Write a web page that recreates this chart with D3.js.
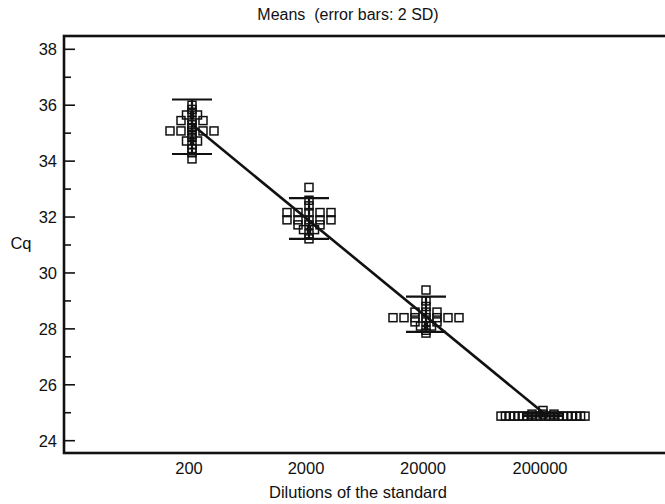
<!DOCTYPE html>
<html>
<head>
<meta charset="utf-8">
<script src="https://cdn.jsdelivr.net/npm/d3@7"></script>
<style>
  body { margin: 0; background: #fff; }
  svg text { font-family: "Liberation Sans", Arial, sans-serif; fill: #111; white-space: pre; }
</style>
</head>
<body>
<svg id="chart" width="665" height="504"></svg>
<script>
// dilution groups on the x axis
const dilutions = ['200', '2000', '20000', '200000'];

// Cq of every replicate, per dilution
const cq200 = [36.0, 35.85, 35.75, 35.65, 35.65, 35.45, 35.45, 35.45, 35.3, 35.2,
  35.08, 35.08, 35.08, 35.08, 35.08, 34.95, 34.85, 34.72, 34.72, 34.6, 34.45, 34.3, 34.08];
const cq2000 = [33.06, 32.6, 32.4, 32.16, 32.16, 32.16, 32.16, 32.16, 31.9, 31.9, 31.9,
  31.9, 31.9, 31.72, 31.72, 31.72, 31.55, 31.55, 31.4, 31.22];
const cq20000 = [29.39, 29.0, 28.8, 28.6, 28.6, 28.6, 28.4, 28.4, 28.4, 28.4, 28.4, 28.4,
  28.4, 28.25, 28.25, 28.25, 28.1, 28.1, 27.95, 27.85];
const cq200000 = [25.08, 24.95, 24.95, 24.95, 24.88, 24.88, 24.88, 24.88, 24.88, 24.88,
  24.88, 24.88, 24.88, 24.88, 24.88, 24.88, 24.88, 24.88, 24.88, 24.88, 24.88, 24.88, 24.88, 24.88];
const replicates = [cq200, cq2000, cq20000, cq200000];

// group means and 2 SD half-widths
const means = [35.23, 31.95, 28.52, 24.93];
const twoSD = [0.975, 0.73, 0.63, 0.04];

const yTicks = [24, 26, 28, 30, 32, 34, 36, 38];
const yMinor = [25, 27, 29, 31, 33, 35, 37];

const svg = d3.select('#chart');
const frame = { left: 64, top: 36, right: 668, bottom: 453 };
const fs = 16.5;

const x = d3.scaleLinear().domain([0, 5]).range([75, 660]);
const y = d3.scaleLinear().domain([24, 38]).range([440.7, 49.3]);

// title
svg.append('text')
  .attr('x', 348).attr('y', 20).attr('text-anchor', 'middle')
  .attr('font-size', 16).text('Means  (error bars: 2 SD)');

// y ticks (inside the frame)
const gy = svg.append('g');
gy.selectAll('line.major').data(yTicks).join('line')
  .attr('x1', frame.left).attr('x2', frame.left + 11)
  .attr('y1', d => y(d)).attr('y2', d => y(d))
  .attr('stroke', '#111').attr('stroke-width', 1.6);
gy.selectAll('line.minor').data(yMinor).join('line')
  .attr('x1', frame.left).attr('x2', frame.left + 7)
  .attr('y1', d => y(d)).attr('y2', d => y(d))
  .attr('stroke', '#111').attr('stroke-width', 1.6);
gy.selectAll('text').data(yTicks).join('text')
  .attr('x', 57).attr('y', d => y(d) + 6).attr('text-anchor', 'end')
  .attr('font-size', fs).text(d => d);

svg.append('text')
  .attr('x', 21).attr('y', 249).attr('text-anchor', 'middle')
  .attr('font-size', fs).text('Cq');

// x labels
svg.append('g').selectAll('text').data(dilutions).join('text')
  .attr('x', (d, i) => x(i + 1) - 3).attr('y', 474).attr('text-anchor', 'middle')
  .attr('font-size', fs).text(d => d);

svg.append('text')
  .attr('x', 358).attr('y', 498).attr('text-anchor', 'middle')
  .attr('font-size', fs).text('Dilutions of the standard');

// replicate squares: equal values spread sideways
const sq = 8;
const gDots = svg.append('g');
replicates.forEach((vals, gi) => {
  const groups = d3.groups(vals, v => v);
  groups.forEach(([v, arr]) => {
    const k = arr.length;
    const step = k > 1 ? Math.min(11, 84 / (k - 1)) : 0;
    arr.forEach((_, j) => {
      const cx = x(gi + 1) + (j - (k - 1) / 2) * step;
      gDots.append('rect')
        .attr('x', cx - sq / 2).attr('y', y(v) - sq / 2)
        .attr('width', sq).attr('height', sq)
        .attr('fill', 'none').attr('stroke', '#111').attr('stroke-width', 1.5);
    });
  });
});

// error bars (mean +/- 2 SD)
const gErr = svg.append('g').attr('stroke', '#111').attr('stroke-width', 2.2);
means.forEach((m, i) => {
  const cx = x(i + 1);
  gErr.append('line').attr('x1', cx).attr('x2', cx)
    .attr('y1', y(m + twoSD[i])).attr('y2', y(m - twoSD[i]));
  [m + twoSD[i], m - twoSD[i]].forEach(v => {
    gErr.append('line').attr('x1', cx - 20).attr('x2', cx + 20)
      .attr('y1', y(v)).attr('y2', y(v));
  });
});

// least squares line through the means
const idx = means.map((_, i) => i + 1);
const mx = d3.mean(idx), my = d3.mean(means);
const slope = d3.sum(idx, (v, i) => (v - mx) * (means[i] - my)) / d3.sum(idx, v => (v - mx) ** 2);
const fit = v => my + slope * (v - mx);
svg.append('line')
  .attr('x1', x(1)).attr('y1', y(fit(1)))
  .attr('x2', x(4)).attr('y2', y(fit(4)))
  .attr('stroke', '#111').attr('stroke-width', 2.6);

// frame
svg.append('rect')
  .attr('x', frame.left).attr('y', frame.top)
  .attr('width', frame.right - frame.left).attr('height', frame.bottom - frame.top)
  .attr('fill', 'none').attr('stroke', '#111').attr('stroke-width', 2.6);
</script>
</body>
</html>
